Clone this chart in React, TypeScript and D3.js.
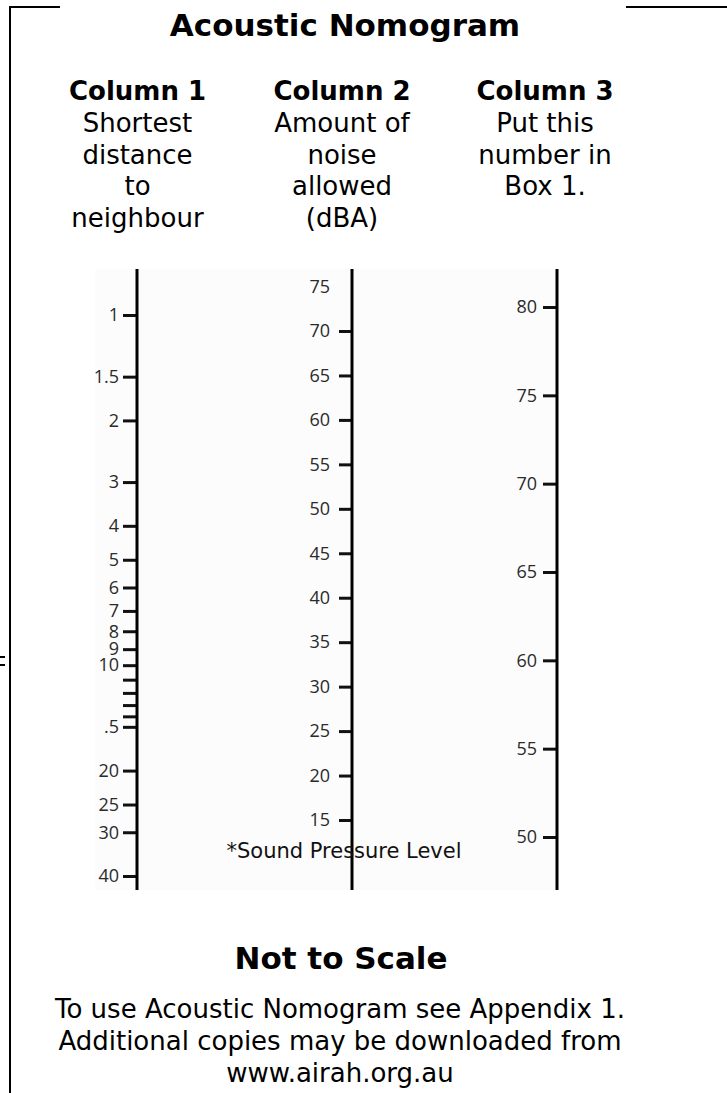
import { useEffect, useRef } from 'react'
import * as d3 from 'd3'

const WIDTH = 727
const HEIGHT = 1093

const TITLE = 'Acoustic Nomogram'
const COLUMN_TITLES = ['Column 1', 'Column 2', 'Column 3']
const COLUMN_NOTES = [
  ['Shortest', 'distance', 'to', 'neighbour'],
  ['Amount of', 'noise', 'allowed', '(dBA)'],
  ['Put this', 'number in', 'Box 1.'],
]

// column 1: distance (log-ish scale), 11-14 are unlabelled
const DISTANCE_TICKS = [1, 1.5, 2, 3, 4, 5, 6, 7, 8, 9, 10, 11, 12, 13, 14, 15, 20, 25, 30, 40]
const DISTANCE_LABELS = ['1', '1.5', '2', '3', '4', '5', '6', '7', '8', '9', '10', '', '', '', '', '.5', '20', '25', '30', '40']

// column 2: noise allowed, 75 has a label but no tick
const NOISE_LABELS = [15, 20, 25, 30, 35, 40, 45, 50, 55, 60, 65, 70, 75]
const NOISE_TICKS = [15, 20, 25, 30, 35, 40, 45, 50, 55, 60, 65, 70]

// column 3: box 1 value
const BOX_TICKS = [50, 55, 60, 65, 70, 75, 80]

const FOOTNOTE = '*Sound Pressure Level'
const NOT_TO_SCALE = 'Not to Scale'
const FOOTER_LINES = [
  'To use Acoustic Nomogram see Appendix 1.',
  'Additional copies may be downloaded from',
  'www.airah.org.au',
]

const HEAD_FONT = '"DejaVu Sans", Verdana, sans-serif'
const TICK_FONT = '"Open Sans", "Noto Sans", sans-serif'

const AXIS_TOP = 269
const AXIS_BOTTOM = 890
const COL_X = [137, 352, 557]
const HEAD_X = [137.5, 342, 545]

function App() {
  const ref = useRef<SVGSVGElement>(null)

  useEffect(() => {
    const svg = d3.select(ref.current)
    svg.selectAll('*').remove()

    // frame
    const frame = svg.append('g').attr('stroke', '#000').attr('stroke-width', 2)
    frame.append('line').attr('x1', 10).attr('x2', 10).attr('y1', 7).attr('y2', HEIGHT)
    frame.append('line').attr('x1', 9).attr('x2', 60).attr('y1', 7).attr('y2', 7)
    frame.append('line').attr('x1', 626).attr('x2', WIDTH).attr('y1', 7).attr('y2', 7)
    frame.append('line').attr('x1', 0).attr('x2', 5).attr('y1', 657).attr('y2', 657)
    frame.append('line').attr('x1', 0).attr('x2', 5).attr('y1', 665).attr('y2', 665)

    // faint background of the scale image
    svg
      .append('rect')
      .attr('x', 95)
      .attr('y', AXIS_TOP)
      .attr('width', COL_X[2] - 95)
      .attr('height', AXIS_BOTTOM - AXIS_TOP)
      .attr('fill', '#fcfcfc')

    svg
      .append('text')
      .attr('x', 345)
      .attr('y', 36)
      .attr('text-anchor', 'middle')
      .attr('font-family', HEAD_FONT)
      .attr('font-weight', 'bold')
      .attr('font-size', 31)
      .text(TITLE)

    COLUMN_TITLES.forEach((t, i) => {
      svg
        .append('text')
        .attr('x', HEAD_X[i])
        .attr('y', 100)
        .attr('text-anchor', 'middle')
        .attr('font-family', HEAD_FONT)
        .attr('font-weight', 'bold')
        .attr('font-size', 26)
        .text(t)
      COLUMN_NOTES[i].forEach((line, j) => {
        svg
          .append('text')
          .attr('x', HEAD_X[i])
          .attr('y', 132 + j * 31.7)
          .attr('text-anchor', 'middle')
          .attr('font-family', HEAD_FONT)
          .attr('font-size', 26)
          .text(line)
      })
    })

    const distY = d3.scaleLog().domain([1, 40]).range([315, 876])
    const noiseY = d3.scaleLinear().domain([15, 70]).range([820, 331])
    const boxY = d3.scaleLinear().domain([50, 80]).range([837, 307])

    const styleAxis = (g: d3.Selection<SVGGElement, unknown, null, undefined>) => {
      g.select('.domain').remove()
      g.attr('font-family', TICK_FONT).attr('font-size', 18)
      g.selectAll('.tick line').attr('stroke', '#111').attr('stroke-width', 3)
      g.selectAll('.tick text').attr('fill', '#2a2a2a')
    }

    const col1 = svg.append('g').attr('transform', `translate(${COL_X[0]},0)`)
    col1.call(
      d3
        .axisLeft(distY)
        .tickValues(DISTANCE_TICKS)
        .tickFormat((_, i) => DISTANCE_LABELS[i])
        .tickSize(14)
        .tickSizeOuter(0)
        .tickPadding(4),
    )
    styleAxis(col1)

    const col2 = svg.append('g').attr('transform', `translate(${COL_X[1]},0)`)
    col2.call(
      d3
        .axisLeft(noiseY)
        .tickValues(NOISE_LABELS)
        .tickFormat(d3.format('d'))
        .tickSize(13)
        .tickSizeOuter(0)
        .tickPadding(9),
    )
    styleAxis(col2)
    col2
      .selectAll<SVGGElement, number>('.tick')
      .filter((d) => !NOISE_TICKS.includes(d))
      .select('line')
      .remove()

    const col3 = svg.append('g').attr('transform', `translate(${COL_X[2]},0)`)
    col3.call(
      d3
        .axisLeft(boxY)
        .tickValues(BOX_TICKS)
        .tickFormat(d3.format('d'))
        .tickSize(14)
        .tickSizeOuter(0)
        .tickPadding(6),
    )
    styleAxis(col3)

    COL_X.forEach((x) => {
      svg
        .append('line')
        .attr('x1', x)
        .attr('x2', x)
        .attr('y1', AXIS_TOP)
        .attr('y2', AXIS_BOTTOM)
        .attr('stroke', '#000')
        .attr('stroke-width', 3)
    })

    svg
      .append('text')
      .attr('x', 344)
      .attr('y', 858)
      .attr('text-anchor', 'middle')
      .attr('font-family', HEAD_FONT)
      .attr('font-size', 21)
      .attr('fill', '#111')
      .text(FOOTNOTE)

    svg
      .append('text')
      .attr('x', 341)
      .attr('y', 969)
      .attr('text-anchor', 'middle')
      .attr('font-family', HEAD_FONT)
      .attr('font-weight', 'bold')
      .attr('font-size', 31)
      .text(NOT_TO_SCALE)

    FOOTER_LINES.forEach((line, i) => {
      svg
        .append('text')
        .attr('x', 340)
        .attr('y', 1018 + i * 32)
        .attr('text-anchor', 'middle')
        .attr('font-family', HEAD_FONT)
        .attr('font-size', 26)
        .text(line)
    })
  }, [])

  return (
    <svg
      ref={ref}
      width={WIDTH}
      height={HEIGHT}
      style={{ position: 'absolute', left: 0, top: 0, background: '#fff' }}
    />
  )
}

export default App
